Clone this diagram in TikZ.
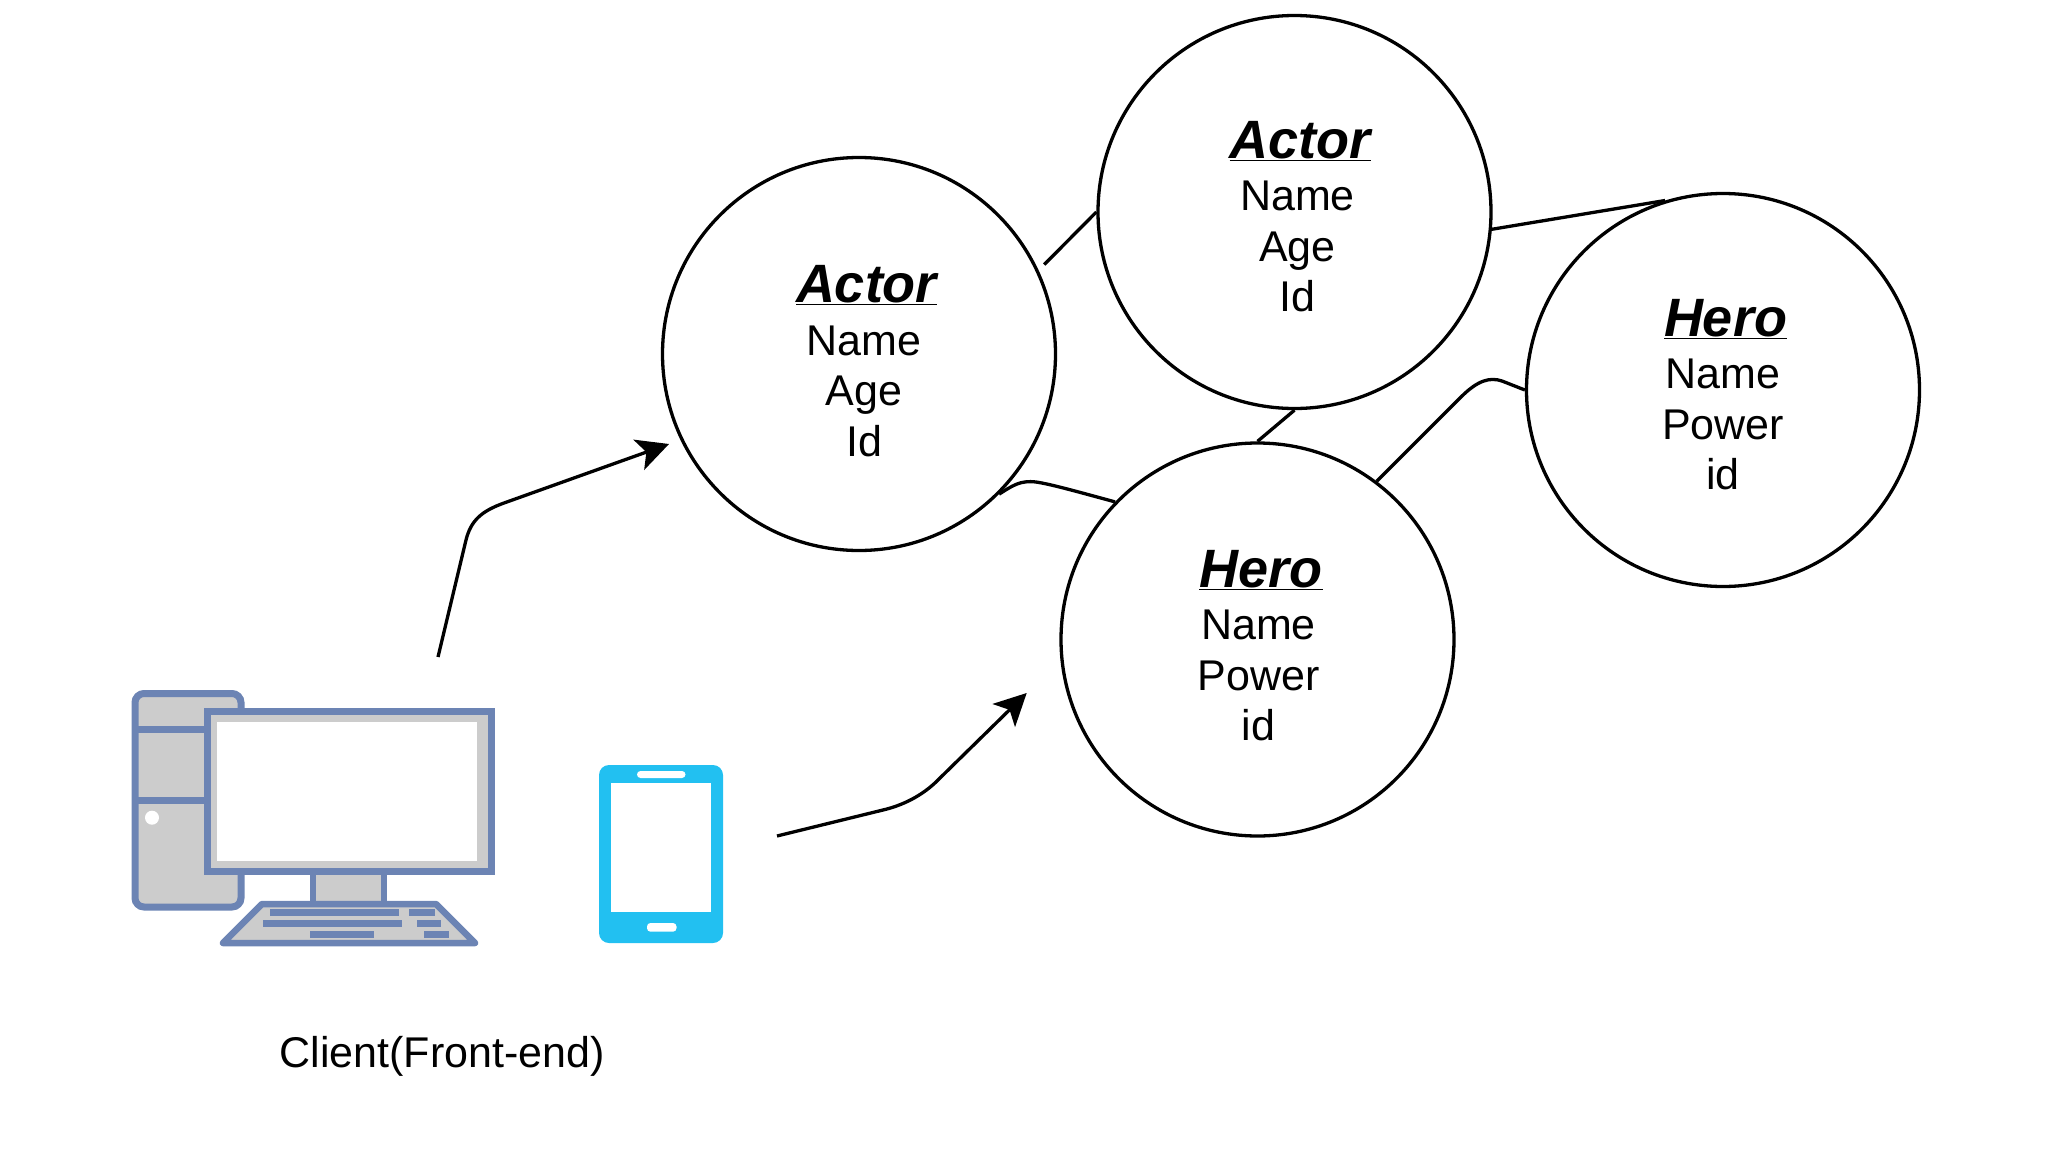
\documentclass[tikz,border=0pt]{standalone}
\usepackage{fontspec}
\setmainfont{Liberation Sans}
\usetikzlibrary{arrows.meta}
\definecolor{iconblue}{HTML}{6C84B4}
\definecolor{icongray}{HTML}{CCCCCC}
\definecolor{phoneblue}{HTML}{22C0F1}
\newcommand{\classtext}[4]{\hspace*{5pt}{\fontsize{54}{58}\selectfont\bfseries\itshape\underline{#1}}\\[2pt]#2\\#3\\#4}
\begin{document}
\begin{tikzpicture}[x=1pt, y=-1pt, >={Stealth[length=32pt,width=32pt,inset=8pt]}, line width=3.3pt]
\tikzset{
  every class/.style={
    circle,
    draw,
    minimum size=393pt,
    inner sep=0pt
  },
  class text/.style={
    align=center,
    inner sep=0pt,
    font=\fontsize{43}{50.5}\selectfont
  },
  iconline/.style={
    draw=iconblue,
    fill=icongray,
    line width=7pt
  },
  iconkey/.style={
    fill=iconblue
  },
  phonepart/.style={
    fill=white,
    rounded corners=3.5pt
  }
}
\useasboundingbox (0,0) rectangle (2054,1162);

\foreach \m/\p/\q/\s/\t in {1/859/354/5/-7, 2/1294.5/212/3/-4.5}
  \node [every class, label={[class text, xshift=\s pt, yshift=\t pt]center:{\classtext{Actor}{Name}{Age}{Id}}}] (actor-\m) at (\p,\q) {};

\foreach \m/\p/\q/\s/\t in {1/1257.5/639.5/1/-6, 2/1723/390/0/-4.5}
  \node [every class, label={[class text, xshift=\s pt, yshift=\t pt]center:{\classtext{Hero}{Name}{Power}{id}}}] (hero-\m) at (\p,\q) {};

% desktop
\draw [iconline, rounded corners=9pt] (135,693.5) rectangle (241,907);
\draw [iconline, fill=none] (135,729) -- (207,729);
\draw [iconline, fill=none] (135,800) -- (207,800);
\fill [white] (152,817.7) circle (7);
\draw [iconline, line width=6pt] (313,871) rectangle (384,904);
\draw [iconline, line width=6.5pt, line join=round] (262,904) -- (436,904) -- (475,943) -- (223,943) -- cycle;
\draw [iconline] (207,711) rectangle (491,871);
\fill [white] (217,721.7) rectangle (477,861);
\foreach \xa/\xb/\ya in {270/398.6/909, 409/434.5/909, 263/402/920, 416.5/441.4/920, 309.6/373.7/930.7, 423.5/448.8/930.7}
  \fill [iconkey] (\xa,\ya) rectangle (\xb,\ya+7.3);

% phone
\fill [phoneblue, rounded corners=10pt] (599,765) rectangle (723,943);
\fill [white] (611,783) rectangle (711,912);
\fill [phonepart] (637,771) rectangle (685.5,778);
\fill [phonepart] (647,923) rectangle (676.5,931.7);

\node [anchor=base, font=\fontsize{43}{50}\selectfont] (client-label) at (442,1067) {Client(Front-end)};

\coordinate (desktop-out) at (438,657);
\coordinate (phone-out) at (777,836);
\coordinate (actor-in) at (669,444);
\coordinate (hero-in) at (1026.7,693);

\draw [->] (desktop-out) -- (466,540) .. controls (471,520) and (482,511) .. (504,503) -- (actor-in);
\draw [->] (phone-out) -- (883,810) .. controls (900,806) and (922,797) .. (940,778) -- (hero-in);

\draw [shorten <=8pt] (actor-1.25) -- (actor-2.180);
\foreach \i/\j in {actor-2.-5/hero-2.107, actor-2.south/hero-1.north}
  \draw (\i) -- (\j);

\draw (actor-1.-45) .. controls (1012,486) and (1020,480) .. (1036,482) .. controls (1050,484) and (1075,491) .. (hero-1.136);
\draw (hero-1.53) -- (1461,397) .. controls (1478,380) and (1490,377) .. (1502,381) -- (hero-2.180);
\end{tikzpicture}
\end{document}
